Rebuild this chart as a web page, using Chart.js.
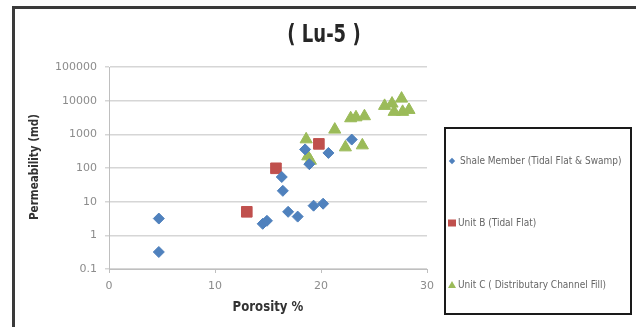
<!DOCTYPE html>
<html>
<head>
<meta charset="utf-8">
<script src="https://cdn.jsdelivr.net/npm/chart.js@4.4.1/dist/chart.umd.min.js"></script>
<style>
  html, body { margin: 0; padding: 0; background: #fff; }
  #wrap { position: relative; width: 636px; height: 327px; overflow: hidden; }
  canvas { display: block; }
</style>
</head>
<body>
<div id="wrap"><canvas id="c" width="636" height="327"></canvas></div>
<script>
// ---- data ----
const chartTitle = "( Lu-5 )";
const xTitle = "Porosity %";
const yTitle = "Permeability (md)";
const seriesNames = ["Shale Member (Tidal Flat & Swamp)", "Unit B (Tidal Flat)", "Unit C ( Distributary Channel Fill)"];
const yTickValues = [0.1, 1, 10, 100, 1000, 10000, 100000];
const xTickValues = [0, 10, 20, 30];

const shalePorosity = [4.7, 4.7, 14.5, 14.9, 16.3, 16.4, 16.9, 17.8, 19.3, 20.2, 18.5, 18.9, 20.7, 22.9];
const shalePerm     = [3.15, 0.32, 2.2, 2.7, 54, 21, 5.0, 3.6, 7.6, 8.7, 357, 130, 280, 700];

const unitBPorosity = [13.0, 15.75, 19.8];
const unitBPerm     = [5.0, 98, 520];

const unitCPorosity = [18.6, 18.75, 19.0, 21.3, 22.3, 22.8, 23.3, 24.1, 23.9, 26.0, 26.7, 27.6, 26.9, 27.7, 28.3];
const unitCPerm     = [710, 222, 165, 1380, 410, 3000, 3200, 3450, 470, 7000, 8200, 11500, 4650, 4650, 5300];

const colors = ["#4F81BD", "#C0504D", "#9BBB59"];

function pts(xs, ys) { return xs.map((x, i) => ({ x: x, y: ys[i] })); }

const NARROW = '"Liberation Sans Narrow", "DejaVu Sans", sans-serif';
const CONDENSED = '"DejaVu Sans Condensed", "Liberation Sans Narrow", sans-serif';

function narrowText(ctx, text, x, y, font, sx, rot) {
  ctx.save();
  ctx.translate(x, y);
  if (rot) ctx.rotate(rot);
  ctx.scale(sx, 1);
  ctx.font = font;
  ctx.fillText(text, 0, 0);
  ctx.restore();
}

const decorPlugin = {
  id: 'decor',
  beforeDraw(chart) {
    const ctx = chart.ctx;
    ctx.save();
    ctx.fillStyle = '#ffffff';
    ctx.fillRect(0, 0, chart.width, chart.height);
    ctx.restore();
  },
  afterDraw(chart) {
    const ctx = chart.ctx;
    ctx.save();
    // outer frame
    ctx.strokeStyle = '#3a3a3a';
    ctx.lineWidth = 3;
    ctx.beginPath();
    ctx.moveTo(13.5, 330);
    ctx.lineTo(13.5, 7.5);
    ctx.lineTo(640, 7.5);
    ctx.stroke();

    ctx.textAlign = 'center';
    ctx.textBaseline = 'middle';
    // title
    ctx.fillStyle = '#262626';
    narrowText(ctx, chartTitle, 324, 36, 'bold 24px ' + NARROW, 0.75, 0);

    // axis titles
    ctx.fillStyle = '#333333';
    narrowText(ctx, xTitle, 268, 307, 'bold 14px ' + NARROW, 0.84, 0);
    narrowText(ctx, yTitle, 35, 167, 'bold 13px ' + NARROW, 0.8, -Math.PI / 2);

    // legend box
    ctx.strokeStyle = '#1a1a1a';
    ctx.lineWidth = 2;
    ctx.strokeRect(445, 128, 186, 186);

    const rows = [161, 223, 285];
    ctx.textAlign = 'left';
    ctx.font = '10px ' + CONDENSED;
    rows.forEach((y, i) => {
      const x = 452;
      ctx.fillStyle = colors[i];
      ctx.beginPath();
      if (i === 0) {
        ctx.moveTo(x, y - 3.2); ctx.lineTo(x + 3.2, y); ctx.lineTo(x, y + 3.2); ctx.lineTo(x - 3.2, y);
      } else if (i === 1) {
        ctx.rect(x - 4, y - 3.5, 8, 7);
      } else {
        ctx.moveTo(x, y - 4); ctx.lineTo(x + 4, y + 3); ctx.lineTo(x - 4, y + 3);
      }
      ctx.closePath();
      ctx.fill();
      ctx.fillStyle = '#666666';
      ctx.fillText(seriesNames[i], i === 0 ? 460 : 458, y);
    });
    ctx.restore();
  }
};

const baseDs = (label, data, color, style, radius) => ({
  label: label,
  data: data,
  showLine: false,
  pointStyle: style,
  pointRadius: radius,
  pointHoverRadius: radius,
  backgroundColor: color,
  borderColor: color,
  borderWidth: 1
});

new Chart(document.getElementById('c'), {
  type: 'scatter',
  data: {
    datasets: [
      baseDs(seriesNames[0], pts(shalePorosity, shalePerm), colors[0], 'rectRot', 5.5),
      baseDs(seriesNames[1], pts(unitBPorosity, unitBPerm), colors[1], 'rect', 7.5),
      baseDs(seriesNames[2], pts(unitCPorosity, unitCPerm), colors[2], 'triangle', 7)
    ]
  },
  options: {
    responsive: false,
    animation: false,
    devicePixelRatio: 1,
    layout: { padding: { left: 0, top: 67, right: 209, bottom: 0 } },
    plugins: {
      legend: { display: false },
      title: { display: false },
      tooltip: { enabled: false }
    },
    scales: {
      x: {
        type: 'linear',
        min: 0, max: 30,
        afterBuildTicks: (s) => { s.ticks = xTickValues.map(v => ({ value: v })); },
        afterFit: (s) => { s.height = 58; },
        grid: { drawOnChartArea: false, drawTicks: true, tickLength: 4, color: '#bfbfbf' },
        border: { color: '#bfbfbf', width: 1 },
        ticks: { padding: 7, color: '#8c8c8c', font: { family: 'DejaVu Sans', size: 11 } }
      },
      y: {
        type: 'logarithmic',
        min: 0.1, max: 100000,
        afterBuildTicks: (s) => { s.ticks = yTickValues.map(v => ({ value: v })); },
        afterFit: (s) => { s.width = 109; },
        grid: { drawOnChartArea: true, drawTicks: true, tickLength: 4, color: '#d6d6d6', lineWidth: 1.5 },
        border: { color: '#bfbfbf', width: 1 },
        ticks: {
          padding: 8, color: '#8c8c8c', font: { family: 'DejaVu Sans', size: 11 },
          callback: (v) => String(v)
        }
      }
    }
  },
  plugins: [decorPlugin]
});
</script>
</body>
</html>
